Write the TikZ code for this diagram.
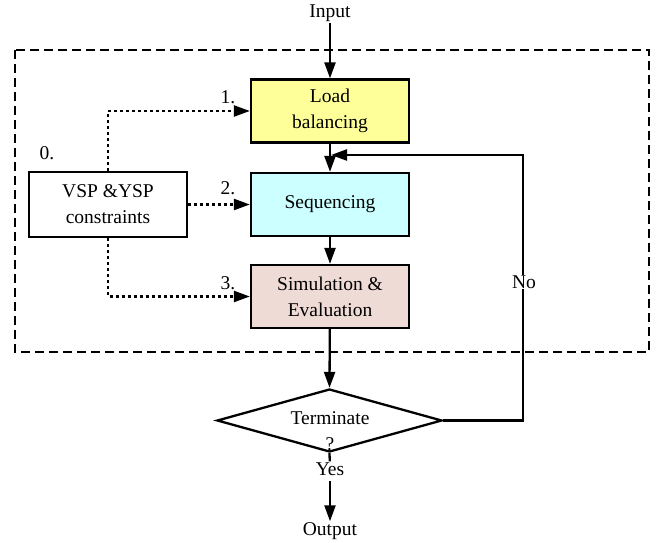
\documentclass[tikz,border=0pt]{standalone}
\usepackage{fontspec}
\setmainfont{Liberation Serif}
\usetikzlibrary{arrows.meta,shapes.geometric}
\begin{document}
\begin{tikzpicture}[x=1pt,y=-1pt,
  every node/.style={font=\fontsize{19.5}{26}\selectfont},
  box/.style={draw,line width=2.3pt,minimum width=158pt,minimum height=63pt,align=center,inner sep=0pt},
  arr/.style={line width=2.3pt,-{Triangle[length=16pt,width=11pt]}},
  dotarr/.style={line width=2.3pt,dash pattern=on 3pt off 3pt,-{Triangle[length=16pt,width=11pt]}},
  lbl/.style={inner sep=1pt}]
\useasboundingbox (0,0) rectangle (657,543);
\definecolor{cyell}{RGB}{255,255,153}
\definecolor{ccyan}{RGB}{204,255,255}
\definecolor{cpink}{RGB}{239,219,214}
\draw[line width=1.5pt,dash pattern=on 9pt off 5pt] (15,50) rectangle (649,352);
\node[lbl] (in) at (330,13) {Input};
\node[box,fill=cyell] (load) at (330,111) {Load\\balancing};
\node[box,fill=ccyan] (seq) at (330,204.5) {Sequencing};
\node[box,fill=cpink] (sim) at (330,296.5) {Simulation \&\\Evaluation};
\node[draw,line width=2.3pt,minimum width=158pt,minimum height=65pt,align=center,inner sep=0pt] (vsp) at (108,204.5) {VSP \&YSP\\constraints};
\node[draw,diamond,line width=2.3pt,minimum width=225pt,minimum height=63pt,inner sep=0pt,aspect=3.6] (term) at (329.5,420.5) {};
\node[lbl,align=center] (termt) at (330,431) {Terminate\\?};
\node[lbl] (zero) at (47,153) {0.};
\node[lbl] (one) at (228,97) {1.};
\node[lbl] (two) at (228,188) {2.};
\node[lbl] (three) at (228,283) {3.};
\node[lbl] (out) at (330,531) {Output};
\node[lbl,fill=white] (yes) at (330,469) {Yes};
\coordinate (fbr) at (523,420.5);
\coordinate (fbt) at (523,155);
\coordinate (fbe) at (331,155);
\coordinate (yesb) at (330,481);
\draw[arr] (in) -- (load);
\draw[arr] (load) -- (seq);
\draw[arr] (seq) -- (sim);
\draw[arr] (sim) -- (term.north);
\draw[line width=2.3pt] (term.south) -- (yes);
\draw[arr] (yesb) -- (out);
\draw[arr] (term.east) -- (fbr) -- (fbt) -- (fbe);
\node[lbl,fill=white] (no) at (524,282) {No};
\draw[dotarr] (vsp.north) |- (load.west);
\draw[dotarr] (vsp.east) -- (seq.west);
\draw[dotarr] (vsp.south) |- (sim.west);
\end{tikzpicture}
\end{document}
